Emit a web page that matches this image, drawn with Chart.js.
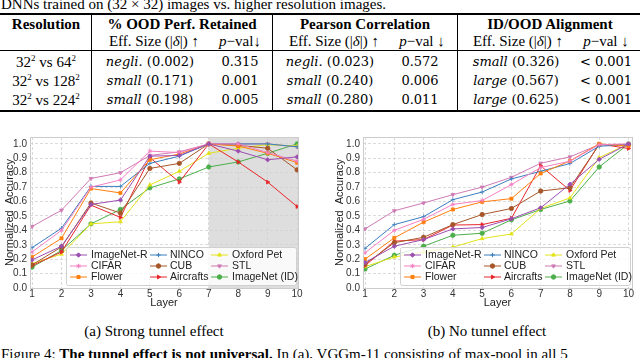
<!DOCTYPE html>
<html lang="en">
<head>
<meta charset="UTF-8">
<title>Tunnel effect</title>
<script src="https://cdn.jsdelivr.net/npm/chart.js"></script>
<style>
    html, body { margin: 0; padding: 0; background: #fff; }
    body { width: 640px; height: 358px; position: relative; overflow: hidden;
           font-family: "Liberation Serif", serif; color: #000; }
    .t { position: absolute; white-space: nowrap; font-size: 15px; line-height: 16px; }
    .c { transform: translateX(-50%); }
    .b { font-weight: bold; }
    .m { font-family: "DejaVu Serif", serif; font-size: 13px; }
    .hr { position: absolute; left: 0; width: 640px; background: #000; }
    .vr { position: absolute; top: 14px; height: 97px; width: 1px; background: #000; }
    sup { font-size: 9px; line-height: 0; vertical-align: 6px; }
    .chart { position: absolute; top: 128px; height: 184px; }
</style>
</head>
<body>
    <!-- table above the plots -->
    <div class="t" style="left:1px; top:-4px;">DNNs trained on (32 × 32) images vs. higher resolution images.</div>
    <div class="hr" style="top:13px; height:1.5px;"></div>
    <div class="vr" style="left:91px;"></div>
    <div class="vr" style="left:272px;"></div>
    <div class="vr" style="left:457px;"></div>

    <div class="t c b" style="left:46px; top:16px;">Resolution</div>
    <div class="t c b" style="left:182px; top:16px;">% OOD Perf. Retained</div>
    <div class="t c b" style="left:365px; top:16px;">Pearson Correlation</div>
    <div class="t c b" style="left:550px; top:16px;">ID/OOD Alignment</div>

    <div class="t c" style="left:154px; top:33px;">Eff. Size (|<i>δ</i>|) ↑</div>
    <div class="t c" style="left:240px; top:33px;"><i>p</i>−val↓</div>
    <div class="t c" style="left:334px; top:33px;">Eff. Size (|<i>δ</i>|) ↑</div>
    <div class="t c" style="left:422px; top:33px;"><i>p</i>−val ↓</div>
    <div class="t c" style="left:518px; top:33px;">Eff. Size (|<i>δ</i>|) ↑</div>
    <div class="t c" style="left:606px; top:33px;"><i>p</i>−val ↓</div>
    <div class="hr" style="top:50px; height:1px;"></div>

    <div class="t c" style="left:46px; top:54px;">32<sup>2</sup> vs 64<sup>2</sup></div>
    <div class="t c m" style="left:150px; top:54px;"><i>negli.</i> (0.002)</div>
    <div class="t c m" style="left:240px; top:54px;">0.315</div>
    <div class="t c m" style="left:330px; top:54px;"><i>negli.</i> (0.023)</div>
    <div class="t c m" style="left:420px; top:54px;">0.572</div>
    <div class="t c m" style="left:516px; top:54px;"><i>small</i> (0.326)</div>
    <div class="t c m" style="left:606px; top:54px;">&lt; 0.001</div>

    <div class="t c" style="left:46px; top:73px;">32<sup>2</sup> vs 128<sup>2</sup></div>
    <div class="t c m" style="left:150px; top:73px;"><i>small</i> (0.171)</div>
    <div class="t c m" style="left:240px; top:73px;">0.001</div>
    <div class="t c m" style="left:330px; top:73px;"><i>small</i> (0.240)</div>
    <div class="t c m" style="left:420px; top:73px;">0.006</div>
    <div class="t c m" style="left:516px; top:73px;"><i>large</i> (0.567)</div>
    <div class="t c m" style="left:606px; top:73px;">&lt; 0.001</div>

    <div class="t c" style="left:46px; top:92px;">32<sup>2</sup> vs 224<sup>2</sup></div>
    <div class="t c m" style="left:150px; top:92px;"><i>small</i> (0.198)</div>
    <div class="t c m" style="left:240px; top:92px;">0.005</div>
    <div class="t c m" style="left:330px; top:92px;"><i>small</i> (0.280)</div>
    <div class="t c m" style="left:420px; top:92px;">0.011</div>
    <div class="t c m" style="left:516px; top:92px;"><i>large</i> (0.625)</div>
    <div class="t c m" style="left:606px; top:92px;">&lt; 0.001</div>
    <div class="hr" style="top:110px; height:1.5px;"></div>

    <!-- the two plots -->
    <div class="chart" style="left:0; width:306px;"><canvas id="chartA"></canvas></div>
    <div class="chart" style="left:330px; width:310px;"><canvas id="chartB"></canvas></div>

    <div class="t c" style="left:154px; top:323px;">(a) Strong tunnel effect</div>
    <div class="t c" style="left:487px; top:323px;">(b) No tunnel effect</div>
    <div class="t" style="left:1px; top:346px;">Figure 4: <b>The tunnel effect is not universal.</b> In (a), VGGm-11 consisting of max-pool in all 5</div>

<script>
// layers on the x axis
const layers = [1, 2, 3, 4, 5, 6, 7, 8, 9, 10];
const yTicks = [0, 0.1, 0.2, 0.3, 0.4, 0.5, 0.6, 0.7, 0.8, 0.9, 1.0];

// series names, legend is filled column by column
const names = ["ImageNet-R", "CIFAR", "Flower", "NINCO", "CUB", "Aircrafts", "Oxford Pet", "STL", "ImageNet (ID)"];

// (a) strong tunnel effect
const aImageNetR = [0.195, 0.29, 0.58, 0.61, 0.915, 0.92, 1.0, 0.95, 0.89, 0.91];
const aCifar     = [0.25, 0.40, 0.70, 0.75, 0.95, 0.94, 1.0, 1.0, 0.94, 0.88];
const aFlower    = [0.215, 0.345, 0.69, 0.66, 0.89, 0.93, 1.0, 0.985, 0.935, 0.87];
const aNinco     = [0.28, 0.415, 0.705, 0.705, 0.865, 0.915, 1.0, 1.0, 1.0, 0.98];
const aCub       = [0.16, 0.285, 0.59, 0.52, 0.83, 0.865, 1.0, 0.99, 0.97, 0.82];
const aAircrafts = [0.155, 0.25, 0.575, 0.49, 0.905, 0.735, 1.0, 0.875, 0.735, 0.565];
const aOxford    = [0.17, 0.235, 0.445, 0.46, 0.715, 0.81, 0.935, 0.97, 0.995, 0.985];
const aStl       = [0.427, 0.54, 0.76, 0.80, 0.92, 0.945, 1.0, 1.0, 1.0, 0.98];
const aImageNet  = [0.145, 0.26, 0.445, 0.545, 0.695, 0.757, 0.84, 0.875, 0.935, 1.0];

// (b) no tunnel effect
const bImageNetR = [0.177, 0.29, 0.336, 0.41, 0.42, 0.48, 0.557, 0.72, 0.893, 1.0];
const bCifar     = [0.245, 0.40, 0.477, 0.58, 0.607, 0.718, 0.836, 0.88, 0.995, 1.0];
const bFlower    = [0.20, 0.348, 0.457, 0.545, 0.598, 0.62, 0.795, 0.882, 1.0, 0.985];
const bNinco     = [0.275, 0.44, 0.495, 0.613, 0.666, 0.757, 0.81, 0.864, 0.984, 0.995];
const bCub       = [0.166, 0.314, 0.352, 0.44, 0.51, 0.552, 0.673, 0.696, 0.995, 0.995];
const bAircrafts = [0.155, 0.325, 0.336, 0.437, 0.44, 0.484, 0.848, 0.677, 1.0, 0.968];
const bOxford    = [0.148, 0.215, 0.25, 0.284, 0.343, 0.375, 0.552, 0.625, 0.905, 1.0];
const bStl       = [0.41, 0.536, 0.59, 0.648, 0.70, 0.768, 0.866, 0.91, 0.995, 0.995];
const bImageNet  = [0.132, 0.227, 0.29, 0.366, 0.38, 0.473, 0.545, 0.604, 0.84, 1.0];

const colors = ["#9c4fb1", "#f57fc3", "#ff7f0e", "#3a7ec0", "#a65628", "#e8262b", "#e2e21a", "#cf7ab4", "#4cae4a"];
const markers = ["rectRot", "star", "rect", "cross", "circle", "triangle", "triangle", "triangle", "circle"];
const rotations = [0, 0, 0, 0, 0, 90, 0, 180, 0];

const sans = "'Liberation Sans', Arial, sans-serif";

// grey panel, frame and the in-axes legend
const panelPlugin = {
    id: 'panel',
    beforeDraw(chart, args, opts) {
        const {ctx, chartArea: a} = chart;
        ctx.save();
        if (opts.shadeFrom != null) {
            const x0 = chart.scales.x.getPixelForValue(opts.shadeFrom);
            ctx.fillStyle = '#dedede';
            ctx.fillRect(x0, a.top, a.right - x0, a.bottom - a.top);
        }
        ctx.restore();
    },
    afterDatasetsDraw(chart) {
        const {ctx, chartArea: a} = chart;
        const w = 230, h = 38;
        const left = a.right - 2 - w, top = a.bottom - 3 - h;
        ctx.save();
        ctx.fillStyle = 'rgba(255,255,255,0.8)';
        ctx.strokeStyle = '#d0d0d0';
        ctx.lineWidth = 1;
        ctx.beginPath();
        ctx.roundRect(left + 0.5, top + 0.5, w, h, 2);
        ctx.fill();
        ctx.stroke();
        const handleX = [4, 84, 145], textX = [25, 104, 166];
        ctx.font = "10.5px " + sans;
        ctx.textBaseline = 'middle';
        chart.data.datasets.forEach((ds, i) => {
            const col = Math.floor(i / 3), row = i % 3;
            const y = top + 8 + row * 11;
            const hx = left + handleX[col];
            ctx.strokeStyle = ds.borderColor;
            ctx.fillStyle = ds.borderColor;
            ctx.lineWidth = 1;
            ctx.beginPath();
            ctx.moveTo(hx, y);
            ctx.lineTo(hx + 17, y);
            ctx.stroke();
            Chart.helpers.drawPoint(ctx, {pointStyle: ds.pointStyle, rotation: ds.pointRotation, radius: 2.2, borderWidth: 0.8}, hx + 8.5, y);
            ctx.fillStyle = '#222';
            ctx.fillText(ds.label, left + textX[col], y + 0.5);
        });
        ctx.restore();
    },
    afterDraw(chart) {
        const {ctx, chartArea: a} = chart;
        ctx.save();
        ctx.strokeStyle = '#cccccc';
        ctx.lineWidth = 1;
        ctx.strokeRect(Math.round(a.left) + 0.5, Math.round(a.top) + 0.5, Math.round(a.right - a.left), Math.round(a.bottom - a.top));
        ctx.restore();
    }
};

function makeChart(id, series, xMax, yWidth, shadeFrom) {
    return new Chart(document.getElementById(id), {
        type: 'line',
        data: {
            datasets: names.map((n, i) => ({
                label: n,
                data: layers.map((l, j) => ({x: l, y: series[i][j]})),
                borderColor: colors[i],
                backgroundColor: colors[i],
                pointStyle: markers[i],
                pointRotation: rotations[i],
                pointRadius: 2.2,
                pointBorderWidth: 0.8,
                borderWidth: 1
            }))
        },
        options: {
            responsive: true,
            maintainAspectRatio: false,
            animation: false,
            layout: { padding: { top: 6, right: 8, left: 0, bottom: 0 } },
            scales: {
                x: {
                    type: 'linear',
                    min: 0.93,
                    max: xMax,
                    afterBuildTicks: s => { s.ticks = layers.map(v => ({value: v})); },
                    afterFit: s => { s.height = 24; },
                    ticks: { font: { family: sans, size: 10 }, color: '#333', padding: 0 },
                    grid: { color: '#d2d2d2', lineWidth: 0.8, drawTicks: false },
                    border: { display: false, dash: [3, 2] },
                    title: { display: true, text: 'Layer', color: '#222',
                             font: { family: sans, size: 11 }, padding: { top: 0, bottom: 2 } }
                },
                y: {
                    min: 0,
                    max: 1.048,
                    afterBuildTicks: s => { s.ticks = yTicks.map(v => ({value: v})); },
                    afterFit: s => { s.width = yWidth; },
                    ticks: { font: { family: sans, size: 10 }, color: '#333', padding: 3,
                             callback: v => v.toFixed(1) },
                    grid: { color: '#d2d2d2', lineWidth: 0.8, drawTicks: false },
                    border: { display: false, dash: [3, 2] },
                    title: { display: true, text: 'Normalized  Accuracy', color: '#222',
                             font: { family: sans, size: 11 }, padding: { top: 3, bottom: 0 } }
                }
            },
            plugins: {
                legend: { display: false },
                tooltip: { enabled: false },
                panel: { shadeFrom: shadeFrom }
            }
        },
        plugins: [panelPlugin]
    });
}

makeChart('chartA',
    [aImageNetR, aCifar, aFlower, aNinco, aCub, aAircrafts, aOxford, aStl, aImageNet],
    10.03, 30, 7);
makeChart('chartB',
    [bImageNetR, bCifar, bFlower, bNinco, bCub, bAircrafts, bOxford, bStl, bImageNet],
    10.12, 33, null);
</script>
</body>
</html>
